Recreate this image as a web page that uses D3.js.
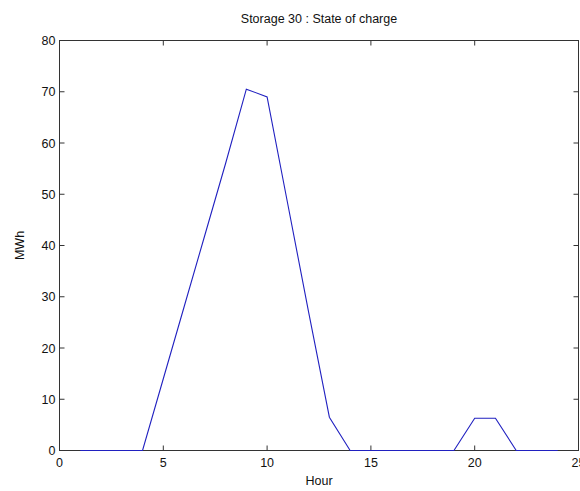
<!DOCTYPE html>
<html><head><meta charset="utf-8">
<script src="https://cdn.jsdelivr.net/npm/d3@7"></script>
<style>body{margin:0;background:#fff;overflow:hidden}svg{display:block}text{font-family:"Liberation Sans",Arial,sans-serif;}</style>
</head><body>
<svg id="c" width="580" height="491"></svg>
<script>
const hours = [1,2,3,4,5,6,7,8,9,10,11,12,13,14,15,16,17,18,19,20,21,22,23,24];
const soc   = [0,0,0,0,14,28,42,56,70.5,69,48,27,6.5,0,0,0,0,0,0,6.3,6.3,0,0,0];
const xTicks = [0,5,10,15,20,25];
const yTicks = [0,10,20,30,40,50,60,70,80];
const title = "Storage 30 : State of charge";
const xLabel = "Hour", yLabel = "MWh";

const svg = d3.select("#c");
const L=59.5, R=578.5, T=40.5, B=450.5;
const x = d3.scaleLinear().domain([0,25]).range([L,R]);
const y = d3.scaleLinear().domain([0,80]).range([B,T]);
const axColor="#333", fs=12.5, tl=5;

svg.append("rect").attr("x",L).attr("y",T).attr("width",R-L).attr("height",B-T)
  .attr("fill","none").attr("stroke",axColor).attr("stroke-width",1);

const g = svg.append("g");
xTicks.forEach(t=>{
  g.append("line").attr("x1",x(t)).attr("x2",x(t)).attr("y1",B).attr("y2",B-tl).attr("stroke",axColor);
  g.append("line").attr("x1",x(t)).attr("x2",x(t)).attr("y1",T).attr("y2",T+tl).attr("stroke",axColor);
  g.append("text").attr("x",x(t)).attr("y",B+16).attr("text-anchor","middle").attr("font-size",fs).attr("fill","#111").text(t);
});
yTicks.forEach(t=>{
  g.append("line").attr("x1",L).attr("x2",L+tl).attr("y1",y(t)).attr("y2",y(t)).attr("stroke",axColor);
  g.append("line").attr("x1",R).attr("x2",R-tl).attr("y1",y(t)).attr("y2",y(t)).attr("stroke",axColor);
  g.append("text").attr("x",L-4).attr("y",y(t)+4.5).attr("text-anchor","end").attr("font-size",fs).attr("fill","#111").text(t);
});

const line = d3.line().x((d,i)=>x(hours[i])).y(d=>y(d));
svg.append("path").datum(soc).attr("d",line).attr("fill","none").attr("stroke","#2020c0").attr("stroke-width",1.1);

svg.append("text").attr("x",(L+R)/2).attr("y",23).attr("text-anchor","middle").attr("font-size",fs).attr("fill","#111").text(title);
svg.append("text").attr("x",(L+R)/2).attr("y",485).attr("text-anchor","middle").attr("font-size",fs).attr("fill","#111").text(xLabel);
svg.append("text").attr("transform",`translate(24,${(T+B)/2}) rotate(-90)`).attr("text-anchor","middle").attr("font-size",fs).attr("fill","#111").text(yLabel);
</script>
</body></html>
